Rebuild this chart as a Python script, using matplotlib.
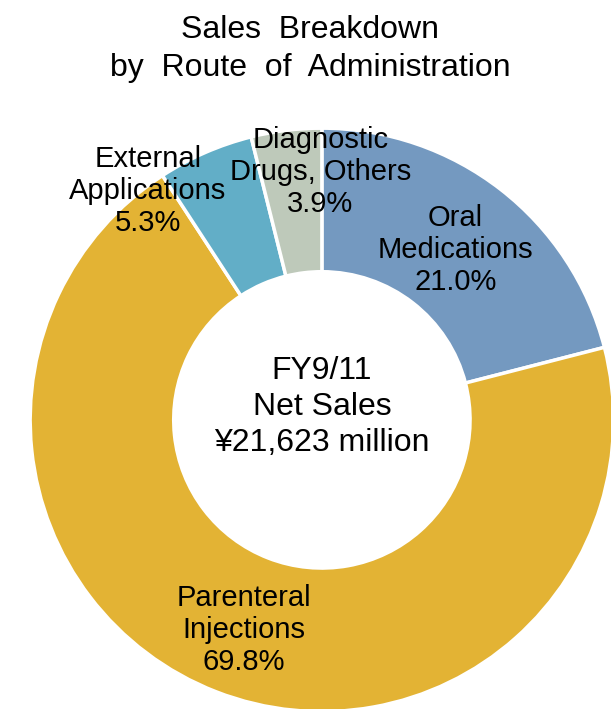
import matplotlib
matplotlib.use("Agg")
import matplotlib.pyplot as plt

plt.rcParams['font.family'] = ['Liberation Sans', 'DejaVu Sans']

# Sales share by route (clockwise from 12 o'clock)
categories = ['Oral\nMedications', 'Parenteral\nInjections', 'External\nApplications', 'Diagnostic\nDrugs, Others']
shares = [21.0, 69.8, 5.3, 3.9]
colors = ['#7499C0', '#E3B334', '#62AEC7', '#BEC9BA']

# label anchor points, in units of the outer radius
label_pos = [(0.46, 0.585), (-0.27, -0.724), (-0.60, 0.79), (-0.005, 0.855)]

fig = plt.figure(figsize=(6.11, 7.09), dpi=100)
ax = fig.add_axes([0, 0, 1, 1])

ax.pie(shares, colors=colors, startangle=90, counterclock=False, radius=1.006,
       wedgeprops=dict(width=0.495, edgecolor='white', linewidth=2.5))

for cat, val, (x, y) in zip(categories, shares, label_pos):
    ax.text(x, y, f'{cat}\n{val:.1f}%', ha='center', va='center',
            fontsize=21, linespacing=1.18)

ax.text(0, 0.045, 'FY9/11\nNet Sales\n¥21,623 million', ha='center', va='center',
        fontsize=23, linespacing=1.25)

ax.text(-0.04, 1.28, 'Sales  Breakdown\nby  Route  of  Administration', ha='center', va='center',
        fontsize=23, linespacing=1.36)

ax.set_xlim(-1.110, 0.997)
ax.set_ylim(-0.997, 1.448)
ax.set_aspect('equal')
ax.axis('off')

fig.savefig('out.png', dpi=100)
